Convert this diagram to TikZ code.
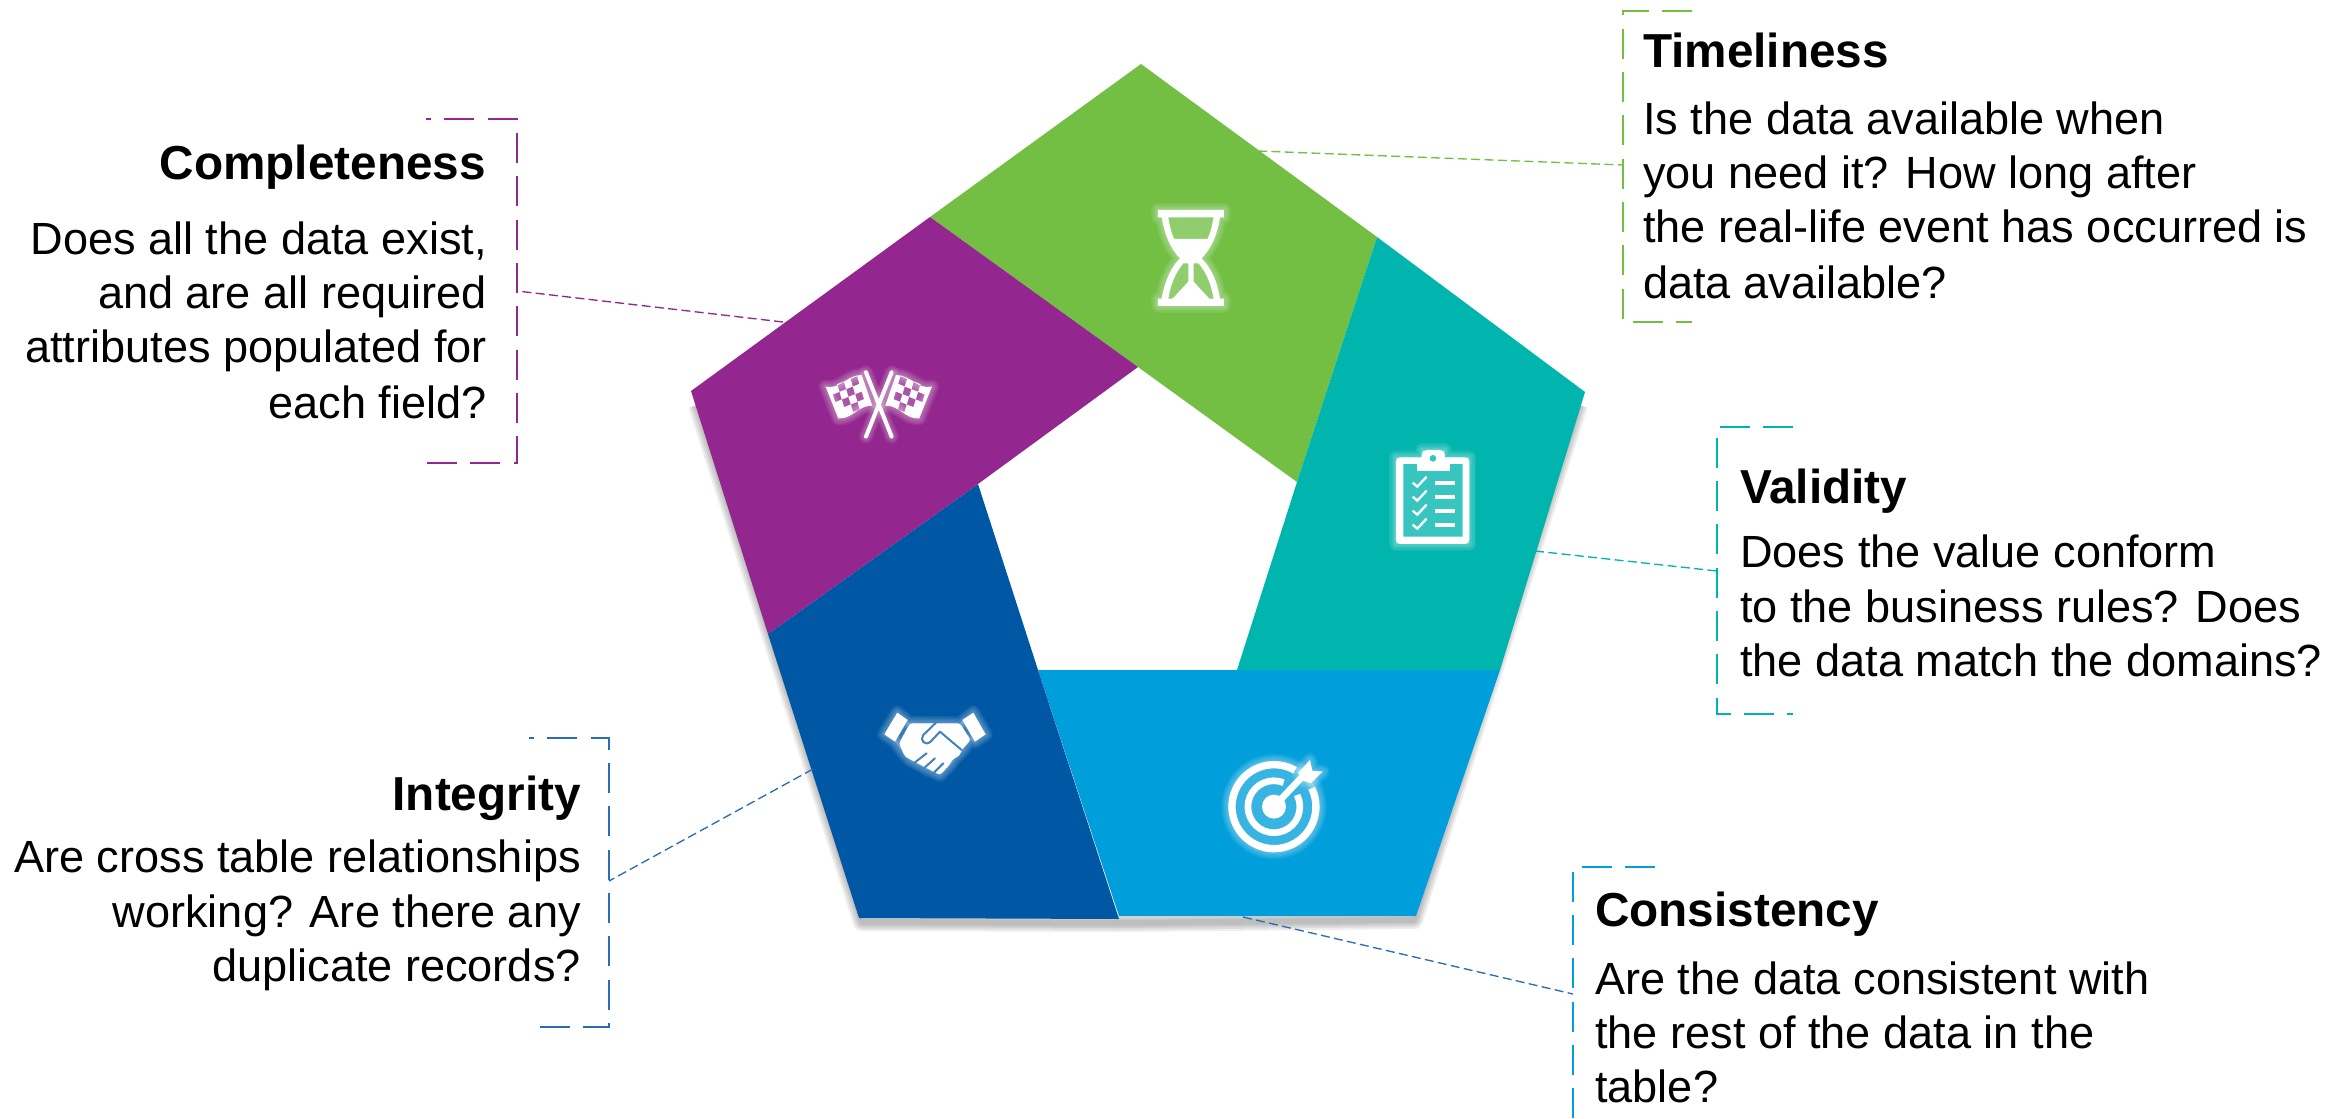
\documentclass[tikz,border=0pt]{standalone}
\usepackage{fontspec}
\setmainfont{Liberation Sans}
\definecolor{cgreen}{HTML}{72BF44}
\definecolor{cteal}{HTML}{00B5AD}
\definecolor{csky}{HTML}{009FDB}
\definecolor{cnavy}{HTML}{0058A4}
\definecolor{cpurple}{HTML}{93278F}
\definecolor{clink}{HTML}{2A6DB5}
\newcommand\halopath[1]{\foreach \w in {42,34,26,18,10}{\draw[white,opacity=.07,line width=\w*0.01cm,line join=round,line cap=round] #1;}\fill[white,opacity=.22] #1;}
\newcommand\fc[2]{(#1-13.5,#2-7.5) -- ++(20,-8) -- ++(7,23) -- ++(-20,8) -- cycle}
\newcommand\flagshape{(107,140) .. controls (150,150) and (170,105) .. (215,105) -- (247,197) .. controls (205,195) and (185,240) .. (145,235) -- cycle}
\newcommand\flagcells{\fc{155}{140} \fc{195}{124} \fc{182}{155} \fc{142}{171} \fc{169}{186} \fc{209}{170} \fc{196}{201}}
\newcommand\polesA{(228,97) -- (305,290)}
\newcommand\polesB{(305,97) -- (228,290)}
\tikzset{
  seg/.style={line width=0pt},
  head/.style={inner sep=0pt,font=\fontsize{40.7pt}{47pt}\selectfont\bfseries},
  body/.style={inner sep=0pt,font=\fontsize{38.5pt}{47pt}\selectfont},
  lt/.style={anchor=base west},
  rt/.style={anchor=base east},
  bracket/.style={line width=0.08cm,dash pattern=on 0.9cm off 0.4cm,line join=miter},
  link/.style={line width=0.04cm,dash pattern=on 0.27cm off 0.13cm},
  iconzoom/.style={x=0.01cm,y=-0.01cm},
  shade/.style={black,opacity=.07,line join=round},
}
\begin{document}
\begin{tikzpicture}[x=0.03cm,y=-0.03cm]
\useasboundingbox (0,0) rectangle (2349,1118);
% soft shadow under the outer edges
\foreach \w in {0.54,0.42,0.30,0.18}{
  \draw[shade,line width=\w cm] (697,405) -- (862,922) -- (1119,923) -- (1414,920) -- (1579,405);
}
% pentagon segments
\fill[cgreen,seg] (930,217) -- (1141,64) -- (1377,237) -- (1297,482) -- (1138,367) -- cycle;
\fill[cteal,seg] (1377,237) -- (1585,392) -- (1500,670) -- (1237,670) -- (1297,482) -- cycle;
\fill[csky,seg] (1038,670) -- (1500,670) -- (1416,916) -- (1119,916) -- cycle;
\fill[cnavy,seg] (768,634) -- (978,484) -- (1038,670) -- (1119,919) -- (859,918) -- cycle;
\fill[cpurple,seg] (930,217) -- (1138,367) -- (978,484) -- (768,634) -- (691,391) -- cycle;
% hourglass
\begin{scope}[shift={(1100,180)},iconzoom]
\halopath{(174,90) -- (372,90) -- (372,112) -- (360,112) .. controls (352,170) and (330,210) .. (305,235) .. controls (330,260) and (352,300) .. (360,356) -- (372,356) -- (372,378) -- (174,378) -- (174,356) -- (185,356) .. controls (195,300) and (215,260) .. (240,235) .. controls (215,210) and (195,170) .. (185,112) -- (174,112) -- cycle}
\fill[white,even odd rule] (174,90) -- (372,90) -- (372,112) -- (360,112) .. controls (352,170) and (330,210) .. (305,235) .. controls (330,260) and (352,300) .. (360,356) -- (372,356) -- (372,378) -- (174,378) -- (174,356) -- (185,356) .. controls (195,300) and (215,260) .. (240,235) .. controls (215,210) and (195,170) .. (185,112) -- (174,112) -- cycle
 (205,112) -- (341,112) .. controls (337,135) and (332,158) .. (323,177) -- (222,177) .. controls (214,158) and (208,135) .. (205,112) -- cycle
 (250,250) .. controls (225,280) and (212,315) .. (205,356) -- (218,356) -- (265,305) -- (265,250) -- cycle
 (296,250) .. controls (321,280) and (334,315) .. (341,356) -- (328,356) -- (281,305) -- (281,250) -- cycle;
\end{scope}
% flags
\begin{scope}[shift={(790,340)},iconzoom]
\halopath{\flagshape}
\halopath{\polesA}
\halopath{\polesB}
\begin{scope}[shift={(533,0)},xscale=-1]
\halopath{\flagshape}
\end{scope}
\fill[white,even odd rule] \flagshape \flagcells;
\begin{scope}[shift={(533,0)},xscale=-1]
\fill[white,even odd rule] \flagshape \flagcells;
\end{scope}
\draw[white,line width=0.12cm,line cap=round] \polesA \polesB;
\end{scope}
% clipboard
\begin{scope}[shift={(1340,430)},iconzoom]
\halopath{(168,82) -- (245,82) -- (245,60) -- (315,60) -- (315,82) -- (388,82) -- (388,342) -- (168,342) -- cycle}
\fill[white,even odd rule,rounded corners=0.12cm] (168,82) rectangle (388,342) [sharp corners] (190,102) rectangle (368,320);
\fill[white,rounded corners=0.15cm] (245,100) rectangle (315,60);
\fill[white] (230,102) rectangle (330,123);
\fill[cteal!80!white] (279,85) circle [radius=10];
\foreach \d in {0,42,84,126}{
  \draw[white,line width=0.07cm] (218,158+\d) -- (232,170+\d) -- (260,140+\d);
  \fill[white] (285,152+\d) rectangle (346,166+\d);
}
\end{scope}
% handshake
\begin{scope}[shift={(860,690)},iconzoom]
\halopath{(112,68) -- (147,98) -- (300,100) -- (340,68) -- (377,133) -- (345,155) -- (332,150) -- (305,185) -- (285,205) -- (270,225) -- (240,255) -- (205,240) -- (150,210) -- (135,195) -- (105,155) -- (73,133) -- cycle}
\fill[white] (112,68) -- (143,90) -- (105,155) -- (73,133) -- cycle;
\fill[white] (340,68) -- (377,133) -- (345,155) -- (307,90) -- cycle;
\fill[white,rounded corners=0.08cm] (150,100) -- (300,100) -- (332,150) -- (305,180) -- (298,198) -- (278,208) -- (266,228) -- (240,255) -- (135,200) -- (117,160) -- cycle;
\draw[cnavy!75!white,line width=0.06cm,line join=round,line cap=round] (228,98) -- (190,135) .. controls (178,150) and (195,170) .. (212,155) -- (240,125) -- (305,180);
\draw[cnavy!75!white,line width=0.06cm,line cap=round] (165,217) -- (200,190) (195,232) -- (225,205) (222,248) -- (250,220);
\end{scope}
% target
\begin{scope}[shift={(1200,740)},iconzoom]
\halopath{(222,200) circle [radius=137]}
\halopath{(295,98) -- (330,60) -- (337,92) -- (368,95) -- (332,130) -- (305,120) -- cycle}
\fill[white] (222,200) circle [radius=36];
\draw[white,line width=0.22cm] (285,91) arc [start angle=-60,end angle=-386,radius=126];
\draw[white,line width=0.20cm] (251,128) arc [start angle=-68,end angle=-387,radius=78];
\draw[white,line width=0.20cm] (222,200) -- (305,112);
\fill[white] (295,98) -- (330,60) -- (337,92) -- (368,95) -- (332,130) -- (305,120) -- cycle;
\end{scope}
% coordinates for connector ends
\coordinate (pTime) at (1258,151);
\coordinate (bTime) at (1623,165);
\coordinate (pVal) at (1535,551);
\coordinate (bVal) at (1717,571);
\coordinate (pCons) at (1243,917);
\coordinate (bCons) at (1573,994);
\coordinate (pInt) at (813,769);
\coordinate (bInt) at (609,881);
\coordinate (pComp) at (783,322);
\coordinate (bComp) at (517,291);
\draw[link,cgreen] (pTime) -- (bTime);
\draw[link,cteal] (pVal) -- (bVal);
\draw[link,clink] (pCons) -- (bCons);
\draw[link,clink] (pInt) -- (bInt);
\draw[link,cpurple] (pComp) -- (bComp);
% brackets
\draw[bracket,cgreen] (1692,11) -- (1623,11) -- (1623,322) -- (1692,322);
\draw[bracket,cteal] (1793,427) -- (1717,427) -- (1717,714) -- (1793,714);
\draw[bracket,csky] (1655,867) -- (1573,867) -- (1573,1118);
\draw[bracket,clink,dash phase=0.75cm] (529,738) -- (609,738) -- (609,1027) -- (535,1027);
\draw[bracket,cpurple,dash phase=0.75cm] (426,119) -- (517,119) -- (517,463) -- (426,463);
% texts
\node[head,lt] (hTime) at (1643,67) {Timeliness};
\node[body,lt] (t1) at (1643,134) {Is the data available when};
\node[body,lt] (t2) at (1643,188) {you need it? How long after};
\node[body,lt] (t3) at (1643,242) {the real-life event has occurred is};
\node[body,lt] (t4) at (1643,298) {data available?};
\node[head,lt] (hVal) at (1740,503) {Validity};
\node[body,lt] (v1) at (1740,567) {Does the value conform};
\node[body,lt] (v2) at (1740,622) {to the business rules? Does};
\node[body,lt] (v3) at (1740,676) {the data match the domains?};
\node[head,lt] (hCons) at (1595,926) {Consistency};
\node[body,lt] (s1) at (1595,994) {Are the data consistent with};
\node[body,lt] (s2) at (1595,1048) {the rest of the data in the};
\node[body,lt] (s3) at (1595,1102) {table?};
\node[head,rt] (hInt) at (581,810) {Integrity};
\node[body,rt] (i1) at (581,872) {Are cross table relationships};
\node[body,rt] (i2) at (581,927) {working? Are there any};
\node[body,rt] (i3) at (581,981) {duplicate records?};
\node[head,rt] (hComp) at (486,179) {Completeness};
\node[body,rt] (c1) at (487,254) {Does all the data exist,};
\node[body,rt] (c2) at (487,308) {and are all required};
\node[body,rt] (c3) at (487,362) {attributes populated for};
\node[body,rt] (c4) at (487,418) {each field?};
\end{tikzpicture}
\end{document}
